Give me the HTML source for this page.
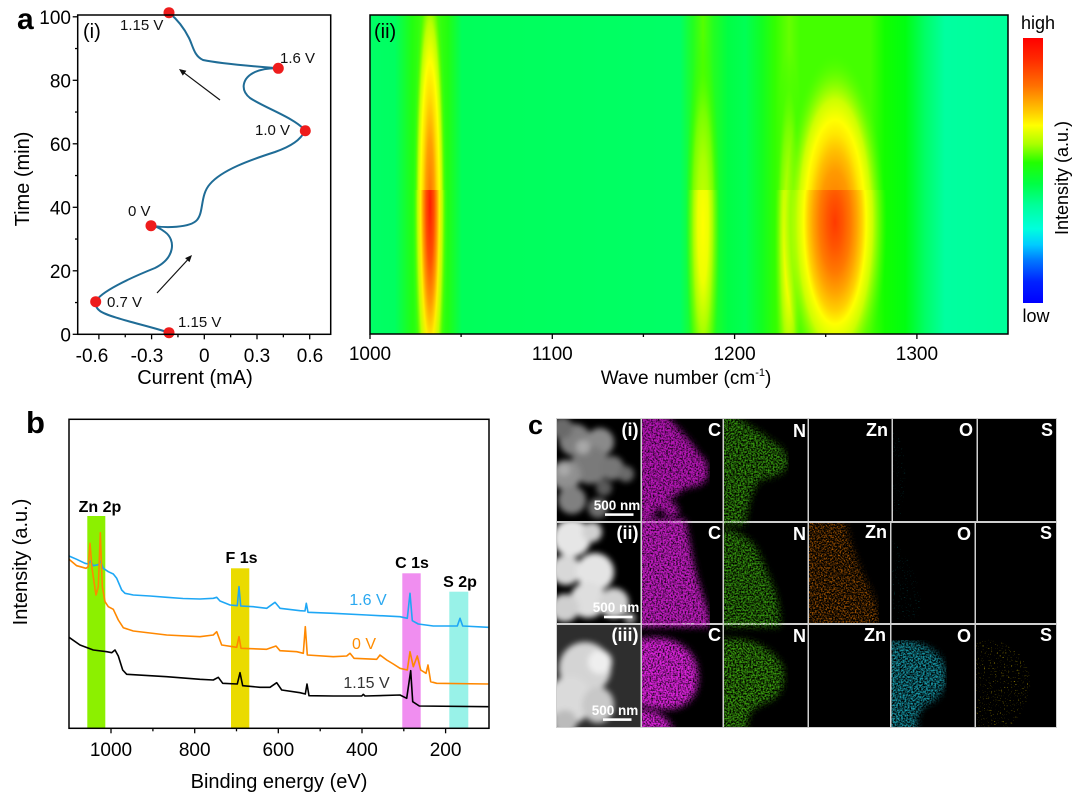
<!DOCTYPE html>
<html>
<head>
<meta charset="utf-8">
<style>
html,body{margin:0;padding:0;background:#fff;}
svg{display:block;}
text{font-family:"Liberation Sans",Arial,sans-serif;}
</style>
</head>
<body>
<svg width="1080" height="803" viewBox="0 0 1080 803" xmlns="http://www.w3.org/2000/svg">
<defs>
  <clipPath id="hm"><rect x="370" y="15" width="638" height="319"/></clipPath>
  <clipPath id="hmTop"><rect x="370" y="15" width="638" height="175"/></clipPath>
  <clipPath id="hmBot"><rect x="370" y="190" width="638" height="144"/></clipPath>
  <linearGradient id="bg" gradientUnits="userSpaceOnUse" x1="370" y1="0" x2="1008" y2="0">
    <stop offset="0" stop-color="#00ff66"/>
    <stop offset="0.039" stop-color="#00ff60"/>
    <stop offset="0.066" stop-color="#22ff11"/>
    <stop offset="0.094" stop-color="#55ff00"/>
    <stop offset="0.122" stop-color="#22ff11"/>
    <stop offset="0.144" stop-color="#00ff5a"/>
    <stop offset="0.486" stop-color="#00ff66"/>
    <stop offset="0.506" stop-color="#22ff22"/>
    <stop offset="0.522" stop-color="#55ff00"/>
    <stop offset="0.539" stop-color="#22ff22"/>
    <stop offset="0.561" stop-color="#00ff44"/>
    <stop offset="0.588" stop-color="#00ff55"/>
    <stop offset="0.614" stop-color="#11ff22"/>
    <stop offset="0.635" stop-color="#33ff00"/>
    <stop offset="0.657" stop-color="#66ff00"/>
    <stop offset="0.674" stop-color="#44ff00"/>
    <stop offset="0.784" stop-color="#44ff00"/>
    <stop offset="0.807" stop-color="#11ff00"/>
    <stop offset="0.839" stop-color="#00ff11"/>
    <stop offset="0.870" stop-color="#00ff66"/>
    <stop offset="0.901" stop-color="#00ffa0"/>
    <stop offset="1" stop-color="#00ff99"/>
  </linearGradient>
  <radialGradient id="gStripe">
    <stop offset="0" stop-color="#ff1a00"/>
    <stop offset="0.22" stop-color="#ff5000"/>
    <stop offset="0.38" stop-color="#ff9a00"/>
    <stop offset="0.52" stop-color="#ffee00"/>
    <stop offset="0.68" stop-color="#bbff00"/>
    <stop offset="0.84" stop-color="#55ff00" stop-opacity="0.6"/>
    <stop offset="1" stop-color="#22ff33" stop-opacity="0"/>
  </radialGradient>
  <radialGradient id="gStripeT">
    <stop offset="0" stop-color="#ff7000"/>
    <stop offset="0.25" stop-color="#ffa000"/>
    <stop offset="0.42" stop-color="#ffdd00"/>
    <stop offset="0.55" stop-color="#ffff00"/>
    <stop offset="0.7" stop-color="#bbff00"/>
    <stop offset="0.85" stop-color="#55ff00" stop-opacity="0.6"/>
    <stop offset="1" stop-color="#22ff33" stop-opacity="0"/>
  </radialGradient>
  <radialGradient id="gBig">
    <stop offset="0" stop-color="#ff3a00"/>
    <stop offset="0.15" stop-color="#ff5500"/>
    <stop offset="0.3" stop-color="#ff7a00"/>
    <stop offset="0.42" stop-color="#ffa500"/>
    <stop offset="0.52" stop-color="#ffd000"/>
    <stop offset="0.6" stop-color="#ffff00"/>
    <stop offset="0.72" stop-color="#ccff00"/>
    <stop offset="0.86" stop-color="#77ff00" stop-opacity="0.7"/>
    <stop offset="1" stop-color="#44ff00" stop-opacity="0"/>
  </radialGradient>
  <radialGradient id="gBigT">
    <stop offset="0" stop-color="#ff7000"/>
    <stop offset="0.3" stop-color="#ff9a00"/>
    <stop offset="0.42" stop-color="#ffc000"/>
    <stop offset="0.52" stop-color="#ffe800"/>
    <stop offset="0.6" stop-color="#ffff00"/>
    <stop offset="0.72" stop-color="#ccff00"/>
    <stop offset="0.86" stop-color="#77ff00" stop-opacity="0.7"/>
    <stop offset="1" stop-color="#44ff00" stop-opacity="0"/>
  </radialGradient>
  <radialGradient id="gBand">
    <stop offset="0" stop-color="#ffff00"/>
    <stop offset="0.3" stop-color="#eeff00"/>
    <stop offset="0.55" stop-color="#aaff00"/>
    <stop offset="0.8" stop-color="#66ff00" stop-opacity="0.6"/>
    <stop offset="1" stop-color="#33ff00" stop-opacity="0"/>
  </radialGradient>
  <radialGradient id="gBandT">
    <stop offset="0" stop-color="#ccff00"/>
    <stop offset="0.35" stop-color="#aaff00"/>
    <stop offset="0.6" stop-color="#77ff00"/>
    <stop offset="0.8" stop-color="#44ff00" stop-opacity="0.6"/>
    <stop offset="1" stop-color="#33ff00" stop-opacity="0"/>
  </radialGradient>
  <linearGradient id="cbar" x1="0" y1="0" x2="0" y2="1">
    <stop offset="0" stop-color="#ff0000"/>
    <stop offset="0.08" stop-color="#ff2a00"/>
    <stop offset="0.18" stop-color="#ff7000"/>
    <stop offset="0.28" stop-color="#ffcc00"/>
    <stop offset="0.33" stop-color="#ffff00"/>
    <stop offset="0.40" stop-color="#aaff00"/>
    <stop offset="0.47" stop-color="#22ff00"/>
    <stop offset="0.55" stop-color="#00ff44"/>
    <stop offset="0.63" stop-color="#00ff99"/>
    <stop offset="0.72" stop-color="#00ffdd"/>
    <stop offset="0.78" stop-color="#00ccff"/>
    <stop offset="0.84" stop-color="#0077ff"/>
    <stop offset="0.92" stop-color="#0022ff"/>
    <stop offset="1" stop-color="#0000ff"/>
  </linearGradient>
  <filter id="bl" x="-30%" y="-30%" width="160%" height="160%"><feGaussianBlur stdDeviation="3"/></filter>
  <filter id="bl1" x="-20%" y="-20%" width="140%" height="140%"><feGaussianBlur stdDeviation="3.5"/></filter>
  <filter id="spkC" x="0" y="0" width="100%" height="100%">
    <feTurbulence type="fractalNoise" baseFrequency="0.6" numOctaves="2" seed="3" result="t"/>
    <feColorMatrix in="t" type="matrix" values="0 0 0 0 0  0 0 0 0 0  0 0 0 0 0  2.4 0 0 0 -0.45" result="a"/>
    <feComposite in="SourceGraphic" in2="a" operator="in"/>
  </filter>
  <filter id="spkN" x="0" y="0" width="100%" height="100%">
    <feTurbulence type="fractalNoise" baseFrequency="0.6" numOctaves="2" seed="5" result="t"/>
    <feColorMatrix in="t" type="matrix" values="0 0 0 0 0  0 0 0 0 0  0 0 0 0 0  2.6 0 0 0 -0.8" result="a"/>
    <feComposite in="SourceGraphic" in2="a" operator="in"/>
  </filter>
  <filter id="spkZ" x="0" y="0" width="100%" height="100%">
    <feTurbulence type="fractalNoise" baseFrequency="0.65" numOctaves="2" seed="7" result="t"/>
    <feColorMatrix in="t" type="matrix" values="0 0 0 0 0  0 0 0 0 0  0 0 0 0 0  3 0 0 0 -1.25" result="a"/>
    <feComposite in="SourceGraphic" in2="a" operator="in"/>
  </filter>
  <filter id="spkS" x="0" y="0" width="100%" height="100%">
    <feTurbulence type="fractalNoise" baseFrequency="0.7" numOctaves="1" seed="11" result="t"/>
    <feColorMatrix in="t" type="matrix" values="0 0 0 0 0  0 0 0 0 0  0 0 0 0 0  6 0 0 0 -3.9" result="a"/>
    <feComposite in="SourceGraphic" in2="a" operator="in"/>
  </filter>
</defs>

<!-- ================= Panel a (i) ================= -->
<text x="17" y="29" font-size="30" font-weight="bold">a</text>
<g stroke="#000" stroke-width="1.3">
  <line x1="72.7" y1="334.3" x2="77.7" y2="334.3"/>
  <line x1="72.7" y1="270.8" x2="77.7" y2="270.8"/>
  <line x1="72.7" y1="207.3" x2="77.7" y2="207.3"/>
  <line x1="72.7" y1="143.8" x2="77.7" y2="143.8"/>
  <line x1="72.7" y1="80.3" x2="77.7" y2="80.3"/>
  <line x1="72.7" y1="16.8" x2="77.7" y2="16.8"/>
  <line x1="75" y1="302.55" x2="77.7" y2="302.55"/>
  <line x1="75" y1="239.05" x2="77.7" y2="239.05"/>
  <line x1="75" y1="175.55" x2="77.7" y2="175.55"/>
  <line x1="75" y1="112.05" x2="77.7" y2="112.05"/>
  <line x1="75" y1="48.55" x2="77.7" y2="48.55"/>
  <line x1="98.9" y1="334.3" x2="98.9" y2="339.3"/>
  <line x1="151.6" y1="334.3" x2="151.6" y2="339.3"/>
  <line x1="204.3" y1="334.3" x2="204.3" y2="339.3"/>
  <line x1="257" y1="334.3" x2="257" y2="339.3"/>
  <line x1="309.7" y1="334.3" x2="309.7" y2="339.3"/>
  <line x1="125.25" y1="334.3" x2="125.25" y2="337.3"/>
  <line x1="177.95" y1="334.3" x2="177.95" y2="337.3"/>
  <line x1="230.65" y1="334.3" x2="230.65" y2="337.3"/>
  <line x1="283.35" y1="334.3" x2="283.35" y2="337.3"/>
</g>
<g font-size="19" text-anchor="end" fill="#000">
  <text x="71" y="341.3">0</text>
  <text x="71" y="277.8">20</text>
  <text x="71" y="214.3">40</text>
  <text x="71" y="150.8">60</text>
  <text x="71" y="87.3">80</text>
  <text x="71" y="23.8">100</text>
</g>
<g font-size="19" text-anchor="middle" fill="#000">
  <text x="92" y="362">-0.6</text>
  <text x="147" y="362">-0.3</text>
  <text x="204.3" y="362">0</text>
  <text x="257" y="362">0.3</text>
  <text x="310" y="362">0.6</text>
</g>
<text x="195" y="384" font-size="20" text-anchor="middle">Current (mA)</text>
<text transform="translate(29,179) rotate(-90)" font-size="20" text-anchor="middle">Time (min)</text>
<text x="83" y="38" font-size="20">(i)</text>

<path d="M169,332.7 C150,326 110,318 100,311 C96,308 95,304 95.7,301.7
         C100,292 130,278 155,268 C175,258 176,240 165,232 C160,228 155,226 151,225.7
         C165,228 190,228 197,220 C204,212 200,195 210,184 C222,170 250,160 275,152 C292,146 300,140 305.3,130.7
         C295,118 265,108 250,98 C240,90 242,78 255,72 C262,69 270,68 278.3,68.3
         C262,67 222,64 203,60 C194,56 193,46 189,38 C184,28 178,20 169,12.7"
      fill="none" stroke="#1f6c96" stroke-width="2"/>
<g fill="#ee1c1c">
  <circle cx="169" cy="332.7" r="5.5"/>
  <circle cx="95.7" cy="301.7" r="5.5"/>
  <circle cx="151" cy="225.7" r="5.5"/>
  <circle cx="305.3" cy="130.7" r="5.5"/>
  <circle cx="278.3" cy="68.3" r="5.5"/>
  <circle cx="169" cy="12.7" r="5.5"/>
</g>
<rect x="77.7" y="15" width="253" height="319.3" fill="none" stroke="#000" stroke-width="1.5"/>
<g font-size="15" fill="#111">
  <text x="120" y="30">1.15 V</text>
  <text x="280" y="63">1.6 V</text>
  <text x="255" y="135">1.0 V</text>
  <text x="128" y="216">0 V</text>
  <text x="107" y="307">0.7 V</text>
  <text x="178" y="327">1.15 V</text>
</g>
<g stroke="#111" stroke-width="1.2">
  <line x1="220" y1="100" x2="184" y2="72.8"/>
  <line x1="157" y1="293" x2="187.5" y2="260"/>
</g>
<polygon points="179,69 186.4,70.8 182.8,75.6" fill="#111"/>
<polygon points="192,255 189.5,262.1 185.1,258.1" fill="#111"/>

<!-- ================= Panel a (ii) heatmap ================= -->
<g clip-path="url(#hm)">
  <rect x="370" y="15" width="638" height="319" fill="url(#bg)"/>
</g>
<g clip-path="url(#hmBot)">
  <ellipse cx="703" cy="225" rx="17" ry="190" fill="url(#gBand)"/>
  <ellipse cx="789" cy="240" rx="15" ry="190" fill="url(#gBand)"/>
  <ellipse cx="835" cy="222" rx="52" ry="170" fill="url(#gBig)"/>
  <ellipse cx="430" cy="205" rx="18" ry="260" fill="url(#gStripe)"/>
</g>
<g clip-path="url(#hmTop)">
  <ellipse cx="703" cy="225" rx="17" ry="190" fill="url(#gBandT)"/>
  <ellipse cx="789" cy="240" rx="15" ry="190" fill="url(#gBandT)"/>
  <ellipse cx="835" cy="222" rx="50" ry="170" fill="url(#gBigT)"/>
  <ellipse cx="430" cy="205" rx="17" ry="260" fill="url(#gStripeT)"/>
</g>
<rect x="370" y="15" width="638" height="319" fill="none" stroke="#000" stroke-width="1.5"/>
<g stroke="#000" stroke-width="1.3">
  <line x1="370" y1="334" x2="370" y2="339"/>
  <line x1="552.3" y1="334" x2="552.3" y2="339"/>
  <line x1="734.6" y1="334" x2="734.6" y2="339"/>
  <line x1="916.9" y1="334" x2="916.9" y2="339"/>
  <line x1="461.1" y1="334" x2="461.1" y2="337"/>
  <line x1="643.4" y1="334" x2="643.4" y2="337"/>
  <line x1="825.7" y1="334" x2="825.7" y2="337"/>
</g>
<g font-size="19" text-anchor="middle">
  <text x="370" y="360">1000</text>
  <text x="552.3" y="360">1100</text>
  <text x="734.6" y="360">1200</text>
  <text x="916.9" y="360">1300</text>
</g>
<text x="686" y="384" font-size="19" text-anchor="middle">Wave number (cm<tspan font-size="11" dy="-8">-1</tspan><tspan dy="8">)</tspan></text>
<text x="374" y="38" font-size="20">(ii)</text>
<rect x="1023" y="38" width="20" height="265" fill="url(#cbar)"/>
<text x="1038" y="29" font-size="18" text-anchor="middle">high</text>
<text x="1036" y="322" font-size="18" text-anchor="middle">low</text>
<text transform="translate(1068,178) rotate(-90)" font-size="18" text-anchor="middle">Intensity (a.u.)</text>

<!-- ================= Panel b ================= -->
<text x="26" y="433" font-size="31" font-weight="bold">b</text>
<rect x="87.3" y="516" width="18" height="212.3" fill="#8cf000"/>
<rect x="231" y="568.3" width="18.3" height="160" fill="#eadb00"/>
<rect x="402.3" y="573.3" width="18.4" height="155" fill="#f08ef0"/>
<rect x="449.3" y="591.7" width="19" height="136.6" fill="#98f2e8"/>
<g font-size="16" font-weight="bold" text-anchor="middle">
  <text x="100" y="512">Zn 2p</text>
  <text x="241.5" y="563">F 1s</text>
  <text x="412" y="568">C 1s</text>
  <text x="460" y="587">S 2p</text>
</g>
<g fill="none" stroke-width="1.6" stroke-linejoin="round">
<polyline stroke="#1ea7f5" points="69,556 76.7,559.3 85,563.3 88.3,564 90.7,561 93.3,565.7 98.3,564.7 100.7,561 103.3,568.3 108.3,571.7 113.3,574 116.7,578.3 121.7,590 125,593.3 133.3,595 150,596 166.7,597.3 183,598.5 200,599 213.3,598.3 216.7,597.3 220,601 230,605 237.3,605.7 239,586.7 240.7,606 253.3,606.7 266.7,608.3 275,602.3 280,608.3 300,610.7 305,611 306.3,603.3 308,612.3 333.3,613.3 366.7,615 400,616.7 407.3,618.3 410,593.3 412.3,620.7 418.3,624 433.3,626 457.3,626 460,618.3 462.7,626 488.3,627.3"/>
<polyline stroke="#ff8800" points="69,559.3 76.7,565.7 86,568.3 88.3,566.7 90,543.3 92,568.3 96,595 98.3,586.7 100.3,532.7 102.3,586.7 105,601.7 108.3,606.7 113.3,609.3 118.3,620 123.3,627.7 133.3,631 166.7,635 200,636.7 213.3,635 216.7,631.7 221.7,645 236.7,647.3 239,636.7 241,648.3 266.7,649.3 276,646 280,650.7 296.7,651.7 303.3,653.3 305.3,626.7 307.3,655 333.3,656.7 346.7,656 350,653.3 354,658.3 376.7,659.3 380,655 386.7,660 393.3,664 400,668.3 407.3,670 410,651.7 413.3,666.7 417.3,656 420.7,670 426,673.3 428,665 430.7,681.7 436.7,683.3 488.3,684"/>
<polyline stroke="#000" points="69,637.3 80,645 93.3,650 106.7,651.7 111.7,652.7 115,650 118.3,656 122.7,670 126.7,674.3 166.7,676.7 200,679.3 213.3,680 218.3,677.3 222.7,683.3 237.3,684 240,672.7 242.7,685.7 260,687.3 270,687.3 276.7,682.7 281.7,690 300,692.7 305.3,694 307,684 309,695.7 333.3,696 361.7,696 363.3,694.3 365,696 400,695 406.7,698.3 410.7,670.7 412.7,701.7 419.3,706 488.3,706.7"/>
</g>
<g font-size="16" text-anchor="middle">
  <text x="368" y="605" fill="#2aa8f0">1.6 V</text>
  <text x="364" y="649" fill="#ff8c00">0 V</text>
  <text x="366.5" y="688" fill="#333">1.15 V</text>
</g>
<rect x="69" y="419.3" width="420" height="309" fill="none" stroke="#000" stroke-width="1.5"/>
<g stroke="#000" stroke-width="1.3">
  <line x1="111" y1="728.3" x2="111" y2="733.3"/>
  <line x1="194.7" y1="728.3" x2="194.7" y2="733.3"/>
  <line x1="278.3" y1="728.3" x2="278.3" y2="733.3"/>
  <line x1="362" y1="728.3" x2="362" y2="733.3"/>
  <line x1="445.6" y1="728.3" x2="445.6" y2="733.3"/>
  <line x1="152.9" y1="728.3" x2="152.9" y2="731.3"/>
  <line x1="236.5" y1="728.3" x2="236.5" y2="731.3"/>
  <line x1="320.2" y1="728.3" x2="320.2" y2="731.3"/>
  <line x1="403.8" y1="728.3" x2="403.8" y2="731.3"/>
</g>
<g font-size="19" text-anchor="middle">
  <text x="111" y="756">1000</text>
  <text x="194.7" y="756">800</text>
  <text x="278.3" y="756">600</text>
  <text x="362" y="756">400</text>
  <text x="445.6" y="756">200</text>
</g>
<text x="279" y="788" font-size="20" text-anchor="middle">Binding energy (eV)</text>
<text transform="translate(27,562) rotate(-90)" font-size="20" text-anchor="middle">Intensity (a.u.)</text>

<!-- ================= Panel c ================= -->
<text x="528" y="434" font-size="27" font-weight="bold">c</text>
<rect x="556" y="418" width="501" height="310" fill="#cfcfcf"/>
<g fill="#000">
  <rect x="557" y="419" width="83.5" height="102"/>
  <rect x="642" y="419" width="80.5" height="102"/>
  <rect x="724" y="419" width="83.5" height="102"/>
  <rect x="809" y="419" width="82.5" height="102"/>
  <rect x="893" y="419" width="83.5" height="102"/>
  <rect x="978" y="419" width="78" height="102"/>
  <rect x="557" y="523" width="83.5" height="100"/>
  <rect x="642" y="523" width="80.5" height="100"/>
  <rect x="724" y="523" width="83.5" height="100"/>
  <rect x="809" y="523" width="81" height="100"/>
  <rect x="891.5" y="523" width="83" height="100"/>
  <rect x="976" y="523" width="80" height="100"/>
  <rect x="557" y="625" width="83.5" height="102"/>
  <rect x="642" y="625" width="80.5" height="102"/>
  <rect x="724" y="625" width="83.5" height="102"/>
  <rect x="809" y="625" width="81" height="102"/>
  <rect x="891.5" y="625" width="83" height="102"/>
  <rect x="976" y="625" width="80" height="102"/>
</g>

<!-- SEM row1 -->
<svg x="557" y="419" width="83.5" height="102" viewBox="557 419 83.5 102" overflow="hidden">
  <g filter="url(#bl)">
    <circle cx="575" cy="440" r="16" fill="#808080"/>
    <circle cx="600" cy="442" r="14" fill="#8a8a8a"/>
    <circle cx="590" cy="465" r="19" fill="#7a7a7a"/>
    <circle cx="566" cy="475" r="15" fill="#909090"/>
    <circle cx="612" cy="468" r="12" fill="#777"/>
    <circle cx="626" cy="474" r="8" fill="#6a6a6a"/>
    <circle cx="572" cy="500" r="14" fill="#808080"/>
    <circle cx="598" cy="508" r="10" fill="#6d6d6d"/>
    <circle cx="562" cy="428" r="11" fill="#6a6a6a"/>
    <circle cx="583" cy="447" r="7" fill="#a8a8a8"/>
    <circle cx="564" cy="470" r="6" fill="#aaa"/>
    <circle cx="604" cy="488" r="8" fill="#5a5a5a"/>
  </g>
</svg>
<!-- SEM row2 -->
<svg x="557" y="523" width="83.5" height="100" viewBox="557 523 83.5 100" overflow="hidden">
  <g filter="url(#bl)">
    <circle cx="572" cy="538" r="19" fill="#e6e6e6"/>
    <circle cx="592" cy="532" r="10" fill="#d0d0d0"/>
    <circle cx="566" cy="570" r="15" fill="#d8d8d8"/>
    <circle cx="595" cy="572" r="19" fill="#e4e4e4"/>
    <circle cx="588" cy="600" r="18" fill="#dedede"/>
    <circle cx="614" cy="603" r="15" fill="#d2d2d2"/>
    <circle cx="565" cy="608" r="14" fill="#cfcfcf"/>
    <circle cx="630" cy="618" r="6" fill="#999"/>
  </g>
</svg>
<!-- SEM row3 -->
<svg x="557" y="625" width="83.5" height="102" viewBox="557 625 83.5 102" overflow="hidden">
  <rect x="557" y="625" width="84" height="102" fill="#2e2e2e"/>
  <g filter="url(#bl)">
    <ellipse cx="585" cy="668" rx="26" ry="26" fill="#d4d4d4"/>
    <ellipse cx="570" cy="700" rx="22" ry="24" fill="#dadada"/>
    <circle cx="600" cy="662" r="12" fill="#eeeeee"/>
    <ellipse cx="598" cy="705" rx="16" ry="18" fill="#c8c8c8"/>
    <circle cx="565" cy="722" r="12" fill="#bbbbbb"/>
  </g>
</svg>

<!-- C maps -->
<svg x="642" y="419" width="80.5" height="308" viewBox="642 419 80.5 308" overflow="hidden">
<g filter="url(#spkC)">
  <path filter="url(#bl1)" fill="#b818b8" d="M636,415 L668,415 C672,425 680,428 684,435 C690,440 695,448 700,455 C708,460 710,470 706,480 C700,488 690,486 682,490 C678,495 672,498 668,500 C676,503 680,508 678,515 C672,520 665,518 662,510 C658,505 655,510 652,521 L636,521 Z"/>
  <path filter="url(#bl1)" fill="#c01cc0" d="M636,519 L685,519 C690,540 692,560 698,580 C704,600 710,612 710,627 L636,627 Z"/>
  <path filter="url(#bl1)" fill="#d822d8" d="M636,640 C660,633 685,640 695,660 C702,680 698,700 680,707 C665,712 650,708 636,705 Z"/>
  <path filter="url(#bl1)" fill="#d822d8" d="M636,710 C655,708 668,716 674,731 L636,731 Z"/>
</g>
</svg>
<!-- N maps -->
<svg x="724" y="419" width="83.5" height="308" viewBox="724 419 83.5 308" overflow="hidden">
<g filter="url(#spkN)">
  <path filter="url(#bl1)" fill="#36960a" d="M718,415 L735,415 C745,425 760,430 770,440 C780,445 790,455 788,465 C784,475 770,478 760,480 C752,490 748,505 745,525 L718,525 Z"/>
  <path filter="url(#bl1)" fill="#36960a" d="M718,528 C740,530 755,540 762,560 C770,580 782,600 780,627 L718,627 Z"/>
  <path filter="url(#bl1)" fill="#3aa00a" d="M718,640 C745,635 770,645 782,665 C788,685 780,700 760,705 C750,710 745,720 748,731 L718,731 Z"/>
</g>
</svg>
<!-- Zn row2 -->
<svg x="809" y="523" width="81" height="100" viewBox="809 523 81 100" overflow="hidden">
<g filter="url(#spkZ)">
  <path filter="url(#bl1)" fill="#a85600" d="M803,519 L845,519 C850,545 858,565 868,585 C876,600 880,612 878,627 L803,627 Z"/>
</g>
</svg>
<!-- O row3 -->
<svg x="891.5" y="625" width="83" height="102" viewBox="891.5 625 83 102" overflow="hidden">
<g filter="url(#spkN)">
  <path filter="url(#bl1)" fill="#1896a6" d="M886,642 C910,636 935,645 945,665 C950,685 940,700 925,705 C918,712 915,720 918,731 L886,731 Z"/>
</g>
</svg>
<!-- faint O rows 1,2 -->
<g filter="url(#spkS)" opacity="0.5">
  <path fill="#0a8a90" d="M893,430 C905,440 910,480 900,515 L893,515 Z"/>
  <path fill="#0a8a90" d="M892,540 C910,555 925,590 920,620 L892,620 Z"/>
</g>
<!-- S row3 -->
<svg x="976" y="625" width="80" height="102" viewBox="976 625 80 102" overflow="hidden">
<g filter="url(#spkS)">
  <path fill="#b8a000" d="M976,640 C1000,636 1028,650 1030,680 C1032,705 1015,720 1010,727 L976,727 Z"/>
</g>
</svg>

<!-- panel c labels -->
<g font-size="18" font-weight="bold" fill="#fff" text-anchor="end">
  <text x="638.5" y="436">(i)</text>
  <text x="721" y="436">C</text>
  <text x="806" y="437">N</text>
  <text x="888" y="436">Zn</text>
  <text x="973" y="436">O</text>
  <text x="1053" y="436">S</text>
  <text x="638.5" y="539">(ii)</text>
  <text x="721" y="539">C</text>
  <text x="806" y="540">N</text>
  <text x="887" y="538">Zn</text>
  <text x="971" y="540">O</text>
  <text x="1052" y="539">S</text>
  <text x="638.5" y="641">(iii)</text>
  <text x="721" y="641">C</text>
  <text x="806" y="642">N</text>
  <text x="886" y="641">Zn</text>
  <text x="971" y="642">O</text>
  <text x="1052" y="641">S</text>
</g>
<g font-size="13.5" font-weight="bold" fill="#fff" text-anchor="middle">
  <text x="617" y="510">500 nm</text>
  <text x="616" y="612">500 nm</text>
  <text x="615" y="715">500 nm</text>
</g>
<g fill="#fff">
  <rect x="605" y="513.3" width="28.5" height="2.6"/>
  <rect x="604" y="615.7" width="28.5" height="2.6"/>
  <rect x="603" y="718.3" width="28.5" height="2.6"/>
</g>
</svg>
</body>
</html>
